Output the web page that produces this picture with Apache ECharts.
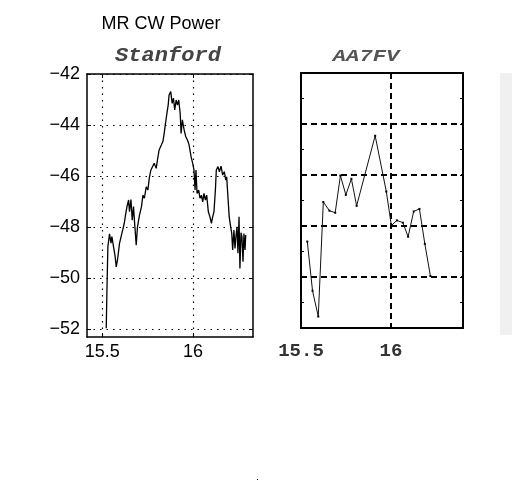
<!DOCTYPE html>
<html>
<head>
<meta charset="utf-8">
<script src="https://cdn.jsdelivr.net/npm/echarts@6/dist/echarts.min.js"></script>
<style>html,body{margin:0;padding:0;background:#fff}#c{width:512px;height:480px}</style>
</head>
<body>
<div id="c"></div>
<script>
// ---- Stanford series ----
var stanX = [15.522,15.526,15.531,15.540,15.548,15.553,15.562,15.571,15.577,15.584,15.595,15.608,15.621,15.628,15.636,15.645,15.650,15.658,15.665,15.672,15.677,15.687,15.694,15.705,15.716,15.724,15.732,15.742,15.751,15.760,15.768,15.779,15.786,15.797,15.804,15.813,15.823,15.834,15.841,15.848,15.856,15.863,15.868,15.877,15.885,15.892,15.899,15.907,15.914,15.921,15.929,15.934,15.941,15.951,15.960,15.969,15.978,15.989,15.998,16.005,16.011,16.016,16.022,16.031,16.038,16.046,16.053,16.060,16.068,16.075,16.084,16.093,16.101,16.108,16.115,16.123,16.128,16.137,16.145,16.154,16.163,16.172,16.180,16.185,16.192,16.199,16.207,16.213,16.218,16.225,16.231,16.236,16.242,16.247,16.253,16.258,16.264,16.269,16.275,16.280,16.286,16.290];
var stanY = [-51.97,-50.40,-48.77,-48.27,-48.63,-48.37,-48.77,-49.16,-49.56,-49.29,-48.64,-48.25,-47.86,-47.53,-47.20,-46.94,-47.40,-46.92,-47.73,-47.20,-47.73,-48.71,-47.99,-47.53,-47.20,-46.75,-46.87,-46.42,-46.55,-46.03,-45.76,-45.83,-45.50,-45.70,-45.37,-44.98,-44.92,-44.65,-44.33,-43.94,-43.54,-43.22,-42.82,-42.69,-43.15,-42.95,-43.41,-43.02,-43.22,-43.02,-43.54,-44.33,-43.80,-44.20,-44.46,-44.59,-44.78,-45.24,-45.50,-45.76,-46.55,-45.76,-46.68,-46.55,-46.87,-46.75,-47.01,-46.68,-46.94,-46.75,-47.40,-47.60,-47.86,-47.60,-47.40,-46.55,-45.76,-45.63,-45.83,-45.61,-45.96,-45.83,-46.16,-46.03,-46.81,-47.60,-47.99,-48.25,-48.90,-48.12,-48.84,-48.38,-47.99,-49.03,-47.60,-49.62,-48.22,-48.38,-49.36,-48.25,-48.90,-48.31];

// ---- AA7FV series ----
var aaX = [15.535,15.564,15.596,15.624,15.658,15.690,15.719,15.749,15.780,15.809,15.912,15.974,16.002,16.033,16.066,16.095,16.126,16.158,16.188,16.219];
var aaY = [-48.61,-50.54,-51.55,-47.06,-47.40,-47.48,-46.02,-46.78,-46.15,-47.21,-44.46,-46.65,-47.98,-47.78,-47.87,-48.42,-47.43,-47.33,-48.70,-49.96];

// ---- ticks / labels ----
var stanYTicks = [-52,-50,-48,-46,-44,-42];
var stanXTicks = [15.5,16];
var mainTitle = 'MR CW Power';
var leftTitle = 'Stanford';
var rightTitle = 'AA7FV';

function pairs(xs, ys){ return xs.map(function(x,i){return [x, ys[i]];}); }
function minusFmt(v){ return (v<0?'\u2212':'') + Math.abs(v); }

var chart = echarts.init(document.getElementById('c'), null, {renderer:'canvas'});

var dotted = {color:'#000', width:1.2, type:[1.5,5]};
var dashed = {color:'#000', width:2, type:[6,4]};
var sans = 'Liberation Sans, Arial, sans-serif';

var stanXBase = {
  gridIndex:0, type:'value', min:15.416, max:16.33,
  axisLine:{show:true, onZero:false, lineStyle:{color:'#000', width:1.5}},
  axisTick:{show:true, inside:true, length:4, customValues:stanXTicks, lineStyle:{color:'#000'}},
  splitLine:{show:false}
};
var stanYBase = {
  gridIndex:0, type:'value', min:-52.31, max:-42,
  axisLine:{show:true, onZero:false, lineStyle:{color:'#000', width:1.5}},
  axisTick:{show:true, inside:true, length:4, customValues:stanYTicks, lineStyle:{color:'#000'}},
  splitLine:{show:false}
};

var option = {
  animation:false,
  backgroundColor:'#fff',
  grid:[
    {left:87, top:74, width:166, height:263},
    {left:301, top:73, width:162, height:255}
  ],
  xAxis:[
    Object.assign({}, stanXBase, {position:'bottom',
      axisLabel:{show:true, customValues:stanXTicks, margin:6, color:'#000', fontFamily:sans, fontSize:18, formatter:function(v){return String(v);}},
      splitLine:{show:true, lineStyle:dotted}}),
    Object.assign({}, stanXBase, {position:'top', axisLabel:{show:false}}),
    {gridIndex:1, type:'value', min:15.5, max:16.4, interval:0.5, position:'bottom',
      axisLine:{show:true, onZero:false, lineStyle:{color:'#000', width:2}},
      axisTick:{show:false},
      axisLabel:{show:true, margin:14, color:'#333', fontFamily:'Liberation Mono, Courier New, monospace', fontWeight:'bold', fontSize:19,
        formatter:function(v){return String(v);}, showMaxLabel:false},
      splitLine:{show:true, lineStyle:dashed}},
    {gridIndex:1, type:'value', min:15.5, max:16.4, interval:0.5, position:'top',
      axisLine:{show:true, onZero:false, lineStyle:{color:'#000', width:2}},
      axisTick:{show:false}, axisLabel:{show:false}, splitLine:{show:false}}
  ],
  yAxis:[
    Object.assign({}, stanYBase, {position:'left',
      axisLabel:{show:true, customValues:stanYTicks, margin:7, color:'#000', fontFamily:sans, fontSize:18, formatter:minusFmt},
      splitLine:{show:true, lineStyle:dotted}}),
    Object.assign({}, stanYBase, {position:'right', axisLabel:{show:false}}),
    {gridIndex:1, type:'value', min:-52, max:-42, interval:2, position:'left',
      axisLine:{show:true, onZero:false, lineStyle:{color:'#000', width:2}},
      axisTick:{show:true, inside:true, length:3, lineStyle:{color:'#000'}},
      minorTick:{show:true, splitNumber:2, length:3, lineStyle:{color:'#000', width:1}},
      axisLabel:{show:false},
      splitLine:{show:true, lineStyle:dashed}},
    {gridIndex:1, type:'value', min:-52, max:-42, interval:2, position:'right',
      axisLine:{show:true, onZero:false, lineStyle:{color:'#000', width:2}},
      axisTick:{show:true, inside:true, length:3, lineStyle:{color:'#000'}},
      minorTick:{show:true, splitNumber:2, length:3, lineStyle:{color:'#000', width:1}},
      axisLabel:{show:false}, splitLine:{show:false}}
  ],
  series:[
    {type:'line', xAxisIndex:0, yAxisIndex:0, data:pairs(stanX, stanY), showSymbol:false, symbol:'none',
      lineStyle:{color:'#000', width:1.3}},
    {type:'line', xAxisIndex:2, yAxisIndex:2, data:pairs(aaX, aaY), symbol:'rect', symbolSize:2,
      itemStyle:{color:'#000'}, lineStyle:{color:'#111', width:1}}
  ],
  graphic:[
    {type:'text', x:161, y:24, style:{text:mainTitle, font:'18px Liberation Sans, Arial, sans-serif', fill:'#000', align:'center', verticalAlign:'middle'}},
    {type:'text', x:168, y:56, scaleX:1.05, style:{text:leftTitle, font:'italic bold 21px Liberation Mono, Courier New, monospace', fill:'#444', align:'center', verticalAlign:'middle'}},
    {type:'text', x:366, y:57, scaleX:1.3, style:{text:rightTitle, font:'italic bold 17px Liberation Mono, Courier New, monospace', fill:'#555', align:'center', verticalAlign:'middle'}},
    {type:'rect', shape:{x:500, y:73, width:12, height:262}, style:{fill:'#f0f0f0'}},
    {type:'rect', shape:{x:257, y:479, width:1, height:1}, style:{fill:'#000'}}
  ]
};
chart.setOption(option);
</script>
</body>
</html>
